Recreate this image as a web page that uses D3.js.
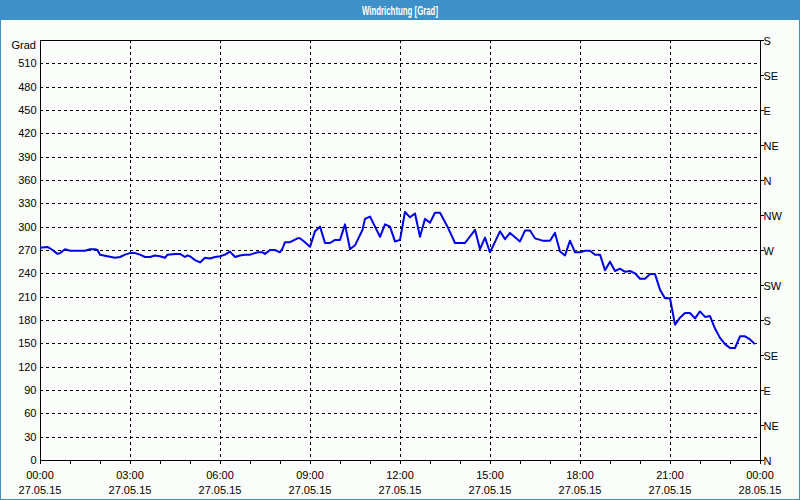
<!DOCTYPE html>
<html><head><meta charset="utf-8">
<script src="https://cdn.jsdelivr.net/npm/d3@7"></script>
<style>
html,body{margin:0;padding:0;background:#fbfdfb;}
svg{display:block;font-family:"Liberation Sans",Arial,sans-serif;}
</style></head>
<body>
<svg id="c" width="800" height="500"></svg>
<script>
// Time of each reading (minutes after 00:00 on 27.05.15)
const minutes = [0,15,25,35,40,50,60,90,100,110,115,120,135,150,160,170,180,190,200,210,220,230,240,250,255,270,280,290,295,300,310,320,330,340,350,360,370,380,390,400,410,420,435,445,450,460,470,480,485,490,500,515,520,530,540,550,560,570,580,590,600,610,620,630,645,650,660,670,680,690,700,710,720,730,740,750,760,770,780,790,800,815,830,850,870,880,890,900,920,930,940,960,970,980,990,1005,1020,1030,1040,1050,1060,1070,1080,1090,1100,1110,1120,1130,1140,1150,1160,1170,1180,1190,1200,1210,1220,1230,1240,1250,1260,1270,1280,1290,1300,1310,1320,1330,1340,1350,1360,1370,1380,1390,1400,1410,1420,1430];
// Wind direction in degrees
const degrees = [273,274,270,265,266,271,269,269,271,271,270,264,262,260,261,264,266,266,264,261,261,263,262,260,264,265,265,261,263,262,257,254,260,259,261,262,264,268,261,263,264,264,267,267,265,270,270,267,272,280,280,285,285,280,274,294,300,279,279,283,283,303,271,276,296,310,313,300,287,303,300,281,283,319,312,317,287,310,305,318,318,300,279,279,296,271,286,267,294,284,292,281,295,295,285,282,282,292,268,263,282,267,267,269,269,264,264,244,255,243,246,242,243,240,233,233,239,239,219,208,208,174,183,189,189,182,191,184,185,169,157,149,144,144,159,159,155,149];
const leftTicks = [0,30,60,90,120,150,180,210,240,270,300,330,360,390,420,450,480,510];
const rightTicks = [0,45,90,135,180,225,270,315,360,405,450,495,540];
const rightLabels = ["N","NE","E","SE","S","SW","W","NW","N","NE","E","SE","S"];
const hourTicks = [0,3,6,9,12,15,18,21,24];
const hourLabels = ["00:00","03:00","06:00","09:00","12:00","15:00","18:00","21:00","00:00"];
const dateLabels = ["27.05.15","27.05.15","27.05.15","27.05.15","27.05.15","27.05.15","27.05.15","27.05.15","28.05.15"];
const title = "Windrichtung [Grad]";
const unit = "Grad";

const svg = d3.select("#c");
const L = 40, R = 760, T = 40, B = 460;
const x = d3.scaleLinear().domain([0, 24*60]).range([L, R]);
const y = d3.scaleLinear().domain([0, 540]).range([B, T]);
const blue = "#3d90c8";

// frame
svg.append("rect").attr("x",0).attr("y",0).attr("width",800).attr("height",20).attr("fill",blue);
svg.append("rect").attr("x",0.5).attr("y",0.5).attr("width",799).attr("height",499).attr("fill","none").attr("stroke",blue).attr("stroke-width",1);
svg.append("text").attr("x",400).attr("y",14.5).attr("text-anchor","middle").attr("fill","#fff")
  .attr("font-size",12.5).attr("font-weight","bold").attr("textLength",76).attr("lengthAdjust","spacingAndGlyphs").text(title);

// grid
const g = svg.append("g");
g.selectAll("line.h").data(leftTicks.filter(d=>d>0)).join("line")
  .attr("x1",L).attr("x2",R).attr("y1",d=>Math.round(y(d))+0.5).attr("y2",d=>Math.round(y(d))+0.5)
  .attr("stroke","#000").attr("stroke-dasharray","3,3").attr("shape-rendering","crispEdges");
g.selectAll("line.v").data(hourTicks.filter(d=>d>0&&d<24)).join("line")
  .attr("y1",T).attr("y2",B).attr("x1",d=>Math.round(x(d*60))+0.5).attr("x2",d=>Math.round(x(d*60))+0.5)
  .attr("stroke","#000").attr("stroke-dasharray","3,3").attr("shape-rendering","crispEdges");

// axes
const fs = 11;
const yl = d3.axisLeft(y).tickValues(leftTicks).tickSize(0).tickPadding(4);
const gl = svg.append("g").attr("transform",`translate(${L+0.5},0)`).call(yl);
const yr = d3.axisRight(y).tickValues(rightTicks).tickSize(3).tickPadding(0).tickFormat((d,i)=>rightLabels[i]);
const gr = svg.append("g").attr("transform",`translate(${R+0.5},1)`).call(yr);
const xb = d3.axisBottom(x).tickValues(d3.range(0,25).map(h=>h*60)).tickSize(3).tickFormat("");
const gb = svg.append("g").attr("transform",`translate(0,${B+0.5})`).call(xb);
[gl,gr,gb].forEach(a=>{
  a.selectAll("path.domain").remove();
  a.selectAll("text").attr("font-size",fs).attr("font-family","Liberation Sans, Arial, sans-serif").attr("fill","#000");
  a.selectAll("line").attr("stroke","#000").attr("shape-rendering","crispEdges");
});
gr.selectAll("line").attr("transform","translate(0,-1)");
svg.append("text").attr("x",36).attr("y",49).attr("text-anchor","end").attr("font-size",fs).text(unit);

svg.selectAll("text.hl").data(hourTicks).join("text").attr("class","hl")
  .attr("x",d=>x(d*60)).attr("y",479).attr("text-anchor","middle").attr("font-size",fs).text((d,i)=>hourLabels[i]);
svg.selectAll("text.dl").data(hourTicks).join("text").attr("class","dl")
  .attr("x",d=>x(d*60)).attr("y",494).attr("text-anchor","middle").attr("font-size",fs).text((d,i)=>dateLabels[i]);

// plot border
svg.append("rect").attr("x",L+0.5).attr("y",T+0.5).attr("width",R-L).attr("height",B-T)
  .attr("fill","none").attr("stroke","#000").attr("shape-rendering","crispEdges");

// line
const pts = minutes.map((m,i)=>[m,degrees[i]]);
svg.append("path").datum(pts).attr("fill","none").attr("stroke","#0000e6").attr("stroke-width",2)
  .attr("stroke-linejoin","round")
  .attr("d", d3.line().x(d=>x(d[0])).y(d=>y(d[1])));
</script>
</body></html>
